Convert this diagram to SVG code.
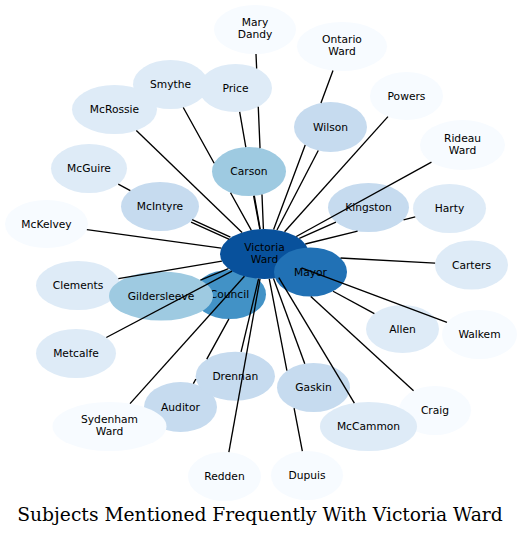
<svg xmlns="http://www.w3.org/2000/svg" width="522" height="536" viewBox="0 0 522 536">
<style>
text{font-family:"DejaVu Sans","Liberation Sans",sans-serif;font-size:10.7px;fill:#000;text-anchor:middle}
.t{font-family:"DejaVu Serif","Liberation Serif",serif;font-size:18.7px}
.l0{fill:#f7fbff}.l1{fill:#deebf7}.l2{fill:#c6dbef}.l3{fill:#9ecae1}.l4{fill:#4292c6}.l5{fill:#2171b5}.l6{fill:#08519c}
#edges path{fill:none;stroke:#000;stroke-width:1.35}
</style>
<rect width="522" height="536" fill="#fff"/>
<g id="nodes">
<g id="mary-dandy"><ellipse class="l0" cx="255" cy="29.5" rx="41" ry="24.5"/><text x="255" y="26">Mary</text><text x="255" y="38">Dandy</text></g>
<g id="ontario-ward"><ellipse class="l0" cx="342" cy="46.5" rx="45" ry="24.5"/><text x="342" y="43">Ontario</text><text x="342" y="55">Ward</text></g>
<g id="mcrossie"><ellipse class="l1" cx="114.5" cy="109.5" rx="42.5" ry="24.5"/><text x="114.5" y="113">McRossie</text></g>
<g id="smythe"><ellipse class="l1" cx="170.5" cy="84.5" rx="37.5" ry="24.5"/><text x="170.5" y="88">Smythe</text></g>
<g id="price"><ellipse class="l1" cx="235.5" cy="88" rx="36.5" ry="24"/><text x="235.5" y="91.5">Price</text></g>
<g id="powers"><ellipse class="l0" cx="406.5" cy="96" rx="36.5" ry="24"/><text x="406.5" y="99.5">Powers</text></g>
<g id="wilson"><ellipse class="l2" cx="330.5" cy="127" rx="36.5" ry="25"/><text x="330.5" y="130.5">Wilson</text></g>
<g id="rideau-ward"><ellipse class="l0" cx="462.5" cy="145" rx="42.5" ry="25"/><text x="462.5" y="141.5">Rideau</text><text x="462.5" y="153.5">Ward</text></g>
<g id="mcguire"><ellipse class="l1" cx="89" cy="168.5" rx="38" ry="24.5"/><text x="89" y="172">McGuire</text></g>
<g id="carson"><ellipse class="l3" cx="249" cy="171.5" rx="37" ry="24.5"/><text x="249" y="175">Carson</text></g>
<g id="mcintyre"><ellipse class="l2" cx="160" cy="206.5" rx="39" ry="24.5"/><text x="160" y="210">McIntyre</text></g>
<g id="kingston"><ellipse class="l2" cx="368.5" cy="207.5" rx="40.5" ry="24.5"/><text x="368.5" y="211">Kingston</text></g>
<g id="harty"><ellipse class="l1" cx="449.5" cy="208.5" rx="36.5" ry="24.5"/><text x="449.5" y="212">Harty</text></g>
<g id="mckelvey"><ellipse class="l0" cx="46.5" cy="224" rx="41.5" ry="24"/><text x="46.5" y="227.5">McKelvey</text></g>
<g id="council"><ellipse class="l4" cx="229.5" cy="294.5" rx="36.5" ry="24.5"/><text x="229.5" y="298">Council</text></g>
<g id="victoria-ward"><ellipse class="l6" cx="264.5" cy="254" rx="44.5" ry="25"/><text x="264.5" y="250.5">Victoria</text><text x="264.5" y="262.5">Ward</text></g>
<g id="mayor"><ellipse class="l5" cx="310.5" cy="272" rx="36.5" ry="24.5"/><text x="310.5" y="275.5">Mayor</text></g>
<g id="carters"><ellipse class="l1" cx="471.5" cy="265" rx="36.5" ry="24.5"/><text x="471.5" y="268.5">Carters</text></g>
<g id="clements"><ellipse class="l1" cx="78" cy="285.5" rx="42" ry="24.5"/><text x="78" y="289">Clements</text></g>
<g id="gildersleeve"><ellipse class="l3" cx="161" cy="296" rx="52" ry="24.5"/><text x="161" y="299.5">Gildersleeve</text></g>
<g id="metcalfe"><ellipse class="l1" cx="76" cy="353.5" rx="40" ry="24.5"/><text x="76" y="357">Metcalfe</text></g>
<g id="allen"><ellipse class="l1" cx="402.5" cy="329" rx="36.5" ry="24"/><text x="402.5" y="332.5">Allen</text></g>
<g id="walkem"><ellipse class="l0" cx="479.5" cy="334.5" rx="37.5" ry="24.5"/><text x="479.5" y="338">Walkem</text></g>
<g id="auditor"><ellipse class="l2" cx="180.5" cy="407" rx="36.5" ry="25"/><text x="180.5" y="410.5">Auditor</text></g>
<g id="drennan"><ellipse class="l2" cx="235.3" cy="376.2" rx="39.7" ry="24.5"/><text x="235.3" y="379.7">Drennan</text></g>
<g id="sydenham-ward"><ellipse class="l0" cx="109.5" cy="426.5" rx="57" ry="24.5"/><text x="109.5" y="423">Sydenham</text><text x="109.5" y="435">Ward</text></g>
<g id="craig"><ellipse class="l0" cx="435" cy="410.5" rx="36" ry="24.5"/><text x="435" y="414">Craig</text></g>
<g id="mccammon"><ellipse class="l1" cx="368.5" cy="426.5" rx="48.5" ry="24.5"/><text x="368.5" y="430">McCammon</text></g>
<g id="gaskin"><ellipse class="l2" cx="313.5" cy="387.5" rx="36.5" ry="24.5"/><text x="313.5" y="391">Gaskin</text></g>
<g id="redden"><ellipse class="l0" cx="224.5" cy="476.5" rx="36.5" ry="24.5"/><text x="224.5" y="480">Redden</text></g>
<g id="dupuis"><ellipse class="l0" cx="307" cy="475.5" rx="36" ry="24.5"/><text x="307" y="479">Dupuis</text></g>
</g>
<g id="edges">
<path d="M263.4,229.0 L261.98,194.45 M260.02,148.10 L258.27,106.77 M256.65,68.42 L256.0,54.0"/>
<path d="M273.6,229.5 L305.2,145.0 M320.95,102.9 L333.0,70.5"/>
<path d="M251.26,230.13 L230.52,192.73 M214.16,163.22 L183.27,107.53"/>
<path d="M260.15,229.12 L254.32,195.75 M245.82,147.08 L239.67,111.84"/>
<path d="M242.08,232.40 L136.32,130.52"/>
<path d="M284.56,231.68 L387.93,116.66"/>
<path d="M276.97,230.0 L318.26,150.55"/>
<path d="M296.28,236.5 L431.47,162.08"/>
<path d="M259.83,229.14 L253.57,195.81"/>
<path d="M192.14,219.68 L230.45,237.10"/>
<path d="M191.06,222.04 L229.37,239.46"/>
<path d="M130.32,190.61 L118.24,184.15"/>
<path d="M299.32,238.43 L335.93,222.06"/>
<path d="M305.27,243.97 L357.61,231.10 M403.55,219.80 L415.23,216.93"/>
<path d="M221.28,248.05 L86.87,229.56"/>
<path d="M340.5,258.04 L435.11,263.07"/>
<path d="M221.88,261.2 L118.34,278.69"/>
<path d="M228.42,268.64 L200.40,280.01"/>
<path d="M232.07,271.12 L106.3,337.51"/>
<path d="M244.45,276.32 L130.04,403.65"/>
<path d="M228.92,318.81 L206.76,359.17 M195.86,379.02 L193.35,383.6"/>
<path d="M258.58,278.78 L241.09,351.96"/>
<path d="M260.03,278.87 L228.87,452.18"/>
<path d="M273.49,278.49 L304.77,363.71"/>
<path d="M269.27,278.86 L286.90,370.73 M294.09,408.24 L302.34,451.21"/>
<path d="M278.78,277.68 L354.37,403.06"/>
<path d="M310.80,296.50 L413.56,390.82"/>
<path d="M333.06,291.26 L374.37,313.71"/>
<path d="M301.5,267.9 L446.96,322.32"/>
</g>
<text class="t" x="260" y="521">Subjects Mentioned Frequently With Victoria Ward</text>
</svg>
